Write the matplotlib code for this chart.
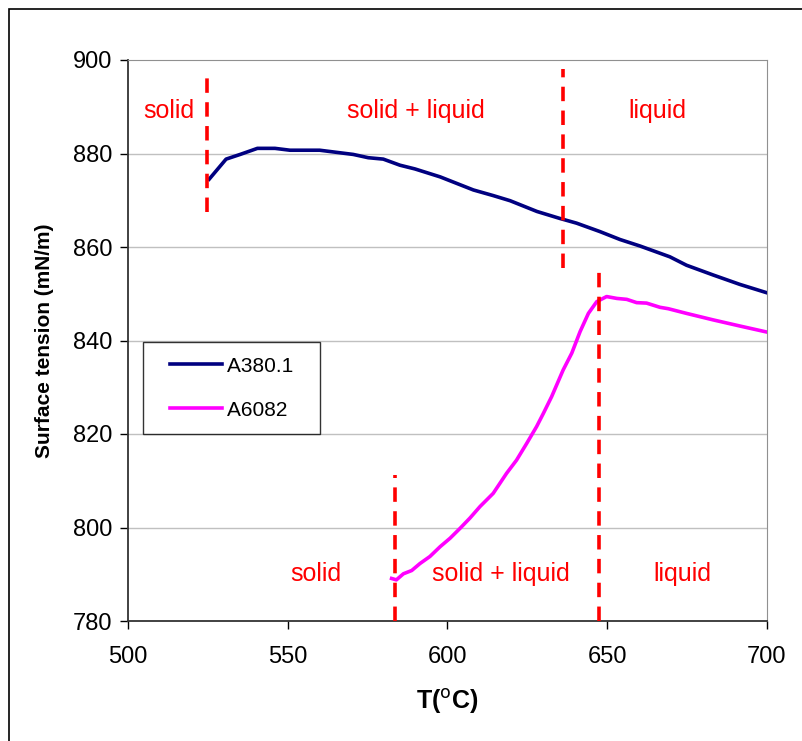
import numpy as np
import matplotlib
matplotlib.use('Agg')
import matplotlib.pyplot as plt
from matplotlib.patches import Rectangle
from matplotlib.legend_handler import HandlerLine2D

plt.rcParams['font.family'] = ['Liberation Sans', 'DejaVu Sans']

# A380.1 measurements
t_a380 = [525.4, 530.7, 535.1, 540.5, 546.0, 550.7, 560.0, 570.5, 575.2, 579.9,
          585.1, 589.8, 597.7, 608.1, 614.3, 619.6, 628.0, 635.2, 640.4, 647.7,
          654.0, 660.3, 669.6, 674.8, 683.2, 691.5, 700.0]
s_a380 = [874.5, 878.8, 879.8, 881.1, 881.1, 880.7, 880.7, 879.8, 879.1, 878.8,
          877.5, 876.7, 875.0, 872.2, 871.0, 869.9, 867.6, 866.1, 865.1, 863.3,
          861.6, 860.2, 857.9, 856.1, 854.0, 852.0, 850.2]

# A6082 measurements
t_a6082 = [582.5, 584.0, 586.2, 588.8, 591.4, 594.5, 597.7, 600.8, 603.9, 607.0,
           610.2, 614.3, 618.5, 621.6, 624.8, 627.9, 630.0, 632.6, 636.2, 638.9,
           641.5, 644.1, 646.7, 649.8, 653.0, 656.1, 659.2, 662.3, 666.5, 669.1,
           674.8, 683.2, 691.5, 700.0]
s_a6082 = [789.1, 788.8, 790.1, 790.8, 792.3, 793.8, 795.9, 797.7, 799.8, 802.0,
           804.5, 807.3, 811.6, 814.4, 818.0, 821.6, 824.4, 828.0, 833.7, 837.3,
           841.9, 845.8, 848.3, 849.4, 849.0, 848.8, 848.1, 848.0, 847.1, 846.8,
           845.8, 844.4, 843.1, 841.8]

# phase boundaries: (T, y_from, y_to)
boundaries = [(524.7, 867.5, 898.0), (636.2, 855.5, 898.0),
              (647.4, 780.0, 855.5), (583.6, 780.0, 811.2)]

# phase labels: (text, T, y)
phase_labels = [('solid', 512.8, 889.1), ('solid + liquid', 590.1, 889.1),
                ('liquid', 665.6, 889.1), ('solid', 558.8, 790.1),
                ('solid + liquid', 616.7, 790.1), ('liquid', 673.4, 790.1)]

xticks = [500, 550, 600, 650, 700]
yticks = [780, 800, 820, 840, 860, 880, 900]

fig = plt.figure(figsize=(8.02, 7.41), dpi=100)
fig.patches.append(Rectangle((9 / 802, -0.1), 1.2, 1 - 9 / 741 + 0.1,
                             transform=fig.transFigure, fill=False,
                             edgecolor='black', lw=1.2))
ax = fig.add_axes([128 / 802, 1 - 621 / 741, 639 / 802, 561 / 741])

for y in yticks[1:-1]:
    ax.axhline(y, color='#c0c0c0', lw=1, zorder=0)

ax.plot(t_a380, s_a380, color='#000080', lw=2.6, label='A380.1  ', zorder=3)
ax.plot(t_a6082, s_a6082, color='#ff00ff', lw=2.6, label='A6082  ', zorder=3)

for t, y0, y1 in boundaries:
    ax.plot([t, t], [y0, y1], color='#ff0000', lw=2.6,
            linestyle=(0, (4, 2.6)), zorder=4)

for txt, t, y in phase_labels:
    ax.text(t, y, txt, color='#ff0000', fontsize=18, ha='center', va='center')

ax.set_xlim(500, 700)
ax.set_ylim(780, 900)
ax.set_xticks(xticks)
ax.set_yticks(yticks)
ax.tick_params(direction='out', length=6, width=1, labelsize=17, pad=5)
ax.tick_params(axis='x', pad=12)
ax.spines['top'].set_color('#909090')
ax.spines['right'].set_color('#909090')
ax.spines['left'].set_color('#333333')
ax.spines['bottom'].set_color('#333333')
ax.spines['left'].set_linewidth(1.3)
ax.spines['bottom'].set_linewidth(1.3)

ax.set_ylabel('Surface tension (mN/m)', fontsize=15, fontweight='bold', labelpad=14)
ax.set_xlabel(r'T($^{\mathrm{o}}$C)', fontsize=18, fontweight='bold', labelpad=14)

leg = ax.legend(loc='upper left', bbox_to_anchor=(15 / 639, (621 - 342) / 561),
                fontsize=15, frameon=True, fancybox=False, handlelength=3.1,
                handletextpad=0.24, borderpad=0.7, labelspacing=1.2,
                borderaxespad=0, handler_map={plt.Line2D: HandlerLine2D(xpad=0.6)})
leg.get_frame().set_edgecolor('black')
leg.get_frame().set_linewidth(1)

fig.savefig('out.png', dpi=100)
